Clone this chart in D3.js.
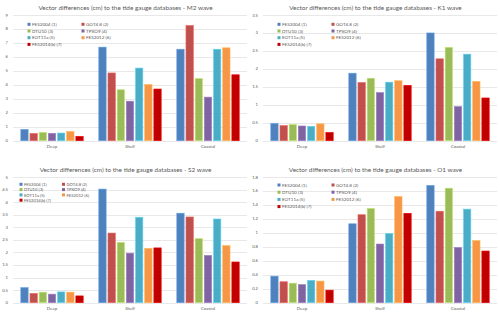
<!DOCTYPE html>
<html>
<head>
<meta charset="utf-8">
<script src="https://cdn.jsdelivr.net/npm/d3@7"></script>
<style>
  body { margin: 0; background: #fff; }
  svg text { font-family: Lato, "Open Sans", sans-serif; fill: #595959; }
</style>
</head>
<body>
<div id="chart"></div>
<script>
// groups on the x axis and the seven tide models
var categories = ["Deep", "Shelf", "Coastal"];
var models = ["FES2004 (1)", "GOT4.8 (2)", "DTU10 (3)", "TPXO9 (4)", "EOT11a (5)", "FES2012 (6)", "FES2014(b) (7)"];
var colors = ["#4F81BD", "#C0504D", "#9BBB59", "#8064A2", "#4BACC6", "#F79646", "#C00000"];

// vector differences (cm), one row per category, one value per model
var m2Deep = [0.81, 0.52, 0.60, 0.53, 0.55, 0.66, 0.31];
var m2Shelf = [6.70, 4.85, 3.65, 2.83, 5.20, 4.02, 3.70];
var m2Coastal = [6.55, 8.25, 4.45, 3.12, 6.55, 6.65, 4.72];

var k1Deep = [0.48, 0.42, 0.45, 0.41, 0.40, 0.47, 0.23];
var k1Shelf = [1.88, 1.62, 1.74, 1.34, 1.63, 1.67, 1.54];
var k1Coastal = [3.00, 2.28, 2.60, 0.95, 2.41, 1.65, 1.19];

var s2Deep = [0.60, 0.37, 0.42, 0.34, 0.43, 0.42, 0.27];
var s2Shelf = [4.52, 2.77, 2.40, 1.97, 3.40, 2.16, 2.18];
var s2Coastal = [3.56, 3.41, 2.55, 1.88, 3.33, 2.27, 1.62];

var o1Deep = [0.38, 0.30, 0.28, 0.26, 0.32, 0.31, 0.18];
var o1Shelf = [1.13, 1.26, 1.35, 0.84, 0.99, 1.52, 1.28];
var o1Coastal = [1.68, 1.31, 1.64, 0.79, 1.34, 0.89, 0.74];

// y axis maximum and step per wave
var waves = ["M2", "K1", "S2", "O1"];
var yMax = [9, 3.5, 5, 1.8];
var yStep = [1, 0.5, 0.5, 0.2];

var W = 500, H = 316;
var svg = d3.select("#chart").append("svg")
    .attr("width", W)
    .attr("height", H);

// panel placement (layout only)
var panels = [
  {wave: 0, rows: [m2Deep, m2Shelf, m2Coastal], x: 0,   y: 0,   leg: [29, 83, 24.3, 6.7, 4.6]},
  {wave: 1, rows: [k1Deep, k1Shelf, k1Coastal], x: 250, y: 0,   leg: [29, 83, 24.3, 6.7, 4.6]},
  {wave: 2, rows: [s2Deep, s2Shelf, s2Coastal], x: 0,   y: 162, leg: [21, 63.5, 22.3, 5.3, 4.2]},
  {wave: 3, rows: [o1Deep, o1Shelf, o1Coastal], x: 250, y: 162, leg: [29, 83, 23, 7.2, 4.6]}
];

panels.forEach(function(p) {
  var g = svg.append("g").attr("transform", "translate(" + p.x + "," + p.y + ")");
  var top = 15, bottom = 140.7, left = 13, right = 247;

  var y = d3.scaleLinear().domain([0, yMax[p.wave]]).range([bottom, top]);
  var x0 = d3.scaleBand().domain(categories).range([left, right])
      .paddingInner(0.2).paddingOuter(0.1);
  var x1 = d3.scaleBand().domain(models).range([0, x0.bandwidth()]).paddingInner(0.2);

  var ticks = d3.range(0, yMax[p.wave] + yStep[p.wave] / 2, yStep[p.wave]);

  // gridlines
  g.selectAll("line.grid")
    .data(ticks)
    .enter().append("line")
    .attr("class", "grid")
    .attr("x1", left).attr("x2", right)
    .attr("y1", function(d) { return Math.round(y(d)) + 0.5; })
    .attr("y2", function(d) { return Math.round(y(d)) + 0.5; })
    .style("stroke", "#D9D9D9")
    .style("stroke-width", 0.6);

  g.selectAll("text.tick")
    .data(ticks)
    .enter().append("text")
    .attr("class", "tick")
    .attr("x", 8)
    .attr("y", function(d) { return y(d) + 1.5; })
    .attr("text-anchor", "end")
    .style("font-size", "4.2px")
    .text(function(d) { return String(+d.toFixed(2)); });

  // bars
  var grp = g.selectAll("g.cat")
    .data(categories)
    .enter().append("g")
    .attr("class", "cat")
    .attr("transform", function(c) { return "translate(" + x0(c) + ",0)"; });

  grp.selectAll("rect")
    .data(function(c, i) {
      return p.rows[i].map(function(v, j) { return {model: models[j], value: v, color: colors[j]}; });
    })
    .enter().append("rect")
    .attr("x", function(d) { return x1(d.model); })
    .attr("width", x1.bandwidth())
    .attr("y", function(d) { return y(d.value); })
    .attr("height", function(d) { return y(0) - y(d.value); })
    .style("fill", function(d) { return d.color; })
    .style("stroke", function(d) { return d3.color(d.color).brighter(0.6); })
    .style("stroke-width", 0.6);

  // category labels
  g.selectAll("text.cat")
    .data(categories)
    .enter().append("text")
    .attr("class", "cat")
    .attr("x", function(c) { return x0(c) + x0.bandwidth() / 2; })
    .attr("y", bottom + 7.5)
    .attr("text-anchor", "middle")
    .style("font-size", "4.4px")
    .text(function(c) { return c; });

  // title
  g.append("text")
    .attr("x", 125.5)
    .attr("y", 9.6)
    .attr("text-anchor", "middle")
    .style("font-size", "6.4px")
    .text("Vector differences (cm) to the tide gauge databases - " + waves[p.wave] + " wave");

  // legend, two columns
  var leg = g.selectAll("g.leg")
    .data(models)
    .enter().append("g")
    .attr("class", "leg")
    .attr("transform", function(d, i) {
      var lx = i % 2 === 0 ? p.leg[0] : p.leg[1];
      var ly = p.leg[2] + Math.floor(i / 2) * p.leg[3];
      return "translate(" + lx + "," + ly + ")";
    });
  leg.append("rect")
    .attr("x", -1.5).attr("y", -1.5)
    .attr("width", 3).attr("height", 3)
    .style("fill", function(d, i) { return colors[i]; });
  leg.append("text")
    .attr("x", 3)
    .attr("y", 1.6)
    .style("font-size", p.leg[4] + "px")
    .text(function(d) { return d; });
});
</script>
</body>
</html>
